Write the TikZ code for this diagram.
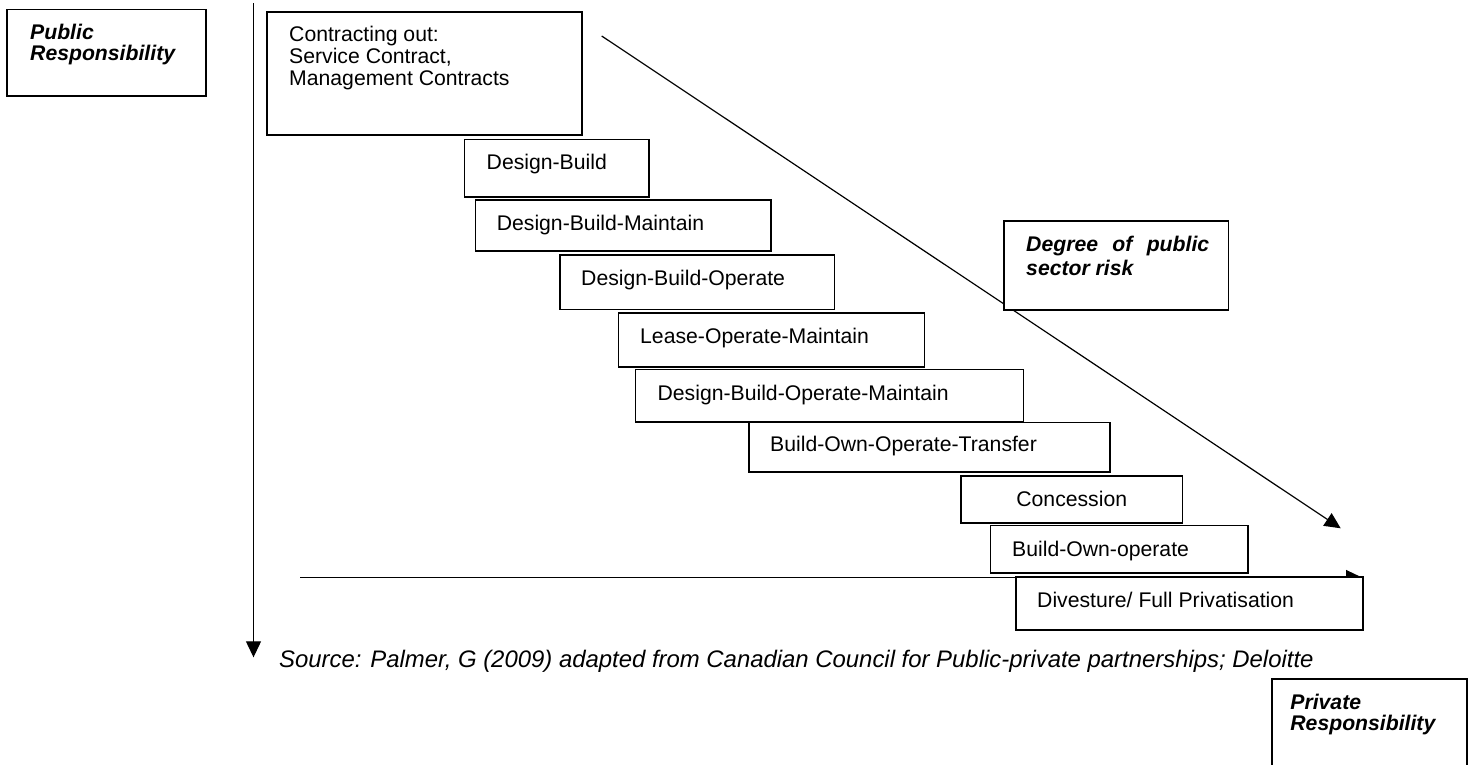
\documentclass[tikz,border=0pt]{standalone}
\usepackage{fontspec}
\setmainfont{Liberation Sans}
\usetikzlibrary{arrows.meta}
\newcommand\diagfont{\fontsize{21.2}{24.4}\selectfont}
\newcommand\tightfont{\fontsize{21.2}{21.5}\selectfont}
\begin{document}
\begin{tikzpicture}[x=1pt,y=-1pt,
  box/.style={draw, line width=1.6pt, fill=white, anchor=north west, inner sep=0pt, outer sep=0pt},
  lbl/.style={anchor=base west, inner sep=0pt, font=\diagfont},
  clbl/.style={anchor=base, inner sep=0pt, font=\diagfont},
  arr/.style={line width=1.2pt, -{Triangle[length=16pt,width=15pt]}}]
\useasboundingbox[fill=white] (0,0) rectangle (1469,764);
% axes / arrows
\coordinate (vtop) at (253.5,3);
\coordinate (vend) at (253.5,657.3);
\coordinate (hstart) at (300,577.5);
\coordinate (hend) at (1362,577.5);
\coordinate (dstart) at (601.7,36);
\coordinate (dend) at (1340.7,528.3);
\draw[arr] (vtop) -- (vend);
\draw[arr] (hstart) -- (hend);
\draw[arr] (dstart) -- (dend);
% boxes
\node[box, minimum width=199pt, minimum height=86.5pt] (pr) at (7,9.5) {};
\node[lbl, font=\tightfont\bfseries\itshape] (prt) at ([shift={(23,29.5)}]pr.north west)
  {\begin{tabular}[t]{@{}l@{}}Public\\Responsibility\end{tabular}};
\node[box, minimum width=315pt, minimum height=123.3pt] (co) at (267,11.7) {};
\node[lbl, font=\tightfont] (cot) at ([shift={(22,30)}]co.north west)
  {\begin{tabular}[t]{@{}l@{}}Contracting out:\\Service Contract,\\Management Contracts\end{tabular}};
\node[box, minimum width=184.5pt, minimum height=57.4pt] (db) at (464.5,139.3) {};
\node[lbl] (dbt) at ([shift={(22,30)}]db.north west) {Design-Build};
\node[box, minimum width=295.1pt, minimum height=51pt] (dbm) at (475.6,200) {};
\node[lbl] (dbmt) at ([shift={(21,30)}]dbm.north west) {Design-Build-Maintain};
\node[box, minimum width=274.6pt, minimum height=54.3pt] (dbo) at (560,255) {};
\node[lbl] (dbot) at ([shift={(21,30)}]dbo.north west) {Design-Build-Operate};
\node[box, minimum width=306.1pt, minimum height=54pt] (lom) at (618.4,312.7) {};
\node[lbl] (lomt) at ([shift={(21.6,30.6)}]lom.north west) {Lease-Operate-Maintain};
\node[box, minimum width=388pt, minimum height=52.4pt] (dbom) at (635.6,369.3) {};
\node[lbl] (dbomt) at ([shift={(21.8,31)}]dbom.north west) {Design-Build-Operate-Maintain};
\node[box, minimum width=361pt, minimum height=49.4pt] (boot) at (749,422.3) {};
\node[lbl] (boott) at ([shift={(21,29.4)}]boot.north west) {Build-Own-Operate-Transfer};
\node[box, minimum width=221.5pt, minimum height=47pt] (con) at (961,475.7) {};
\node[clbl] (cont) at ([shift={(0,30.3)}]con.north) {Concession};
\node[box, minimum width=257.2pt, minimum height=47.7pt] (boo) at (990.5,525.3) {};
\node[lbl] (boot2) at ([shift={(21.5,30.7)}]boo.north west) {Build-Own-operate};
\node[box, minimum width=346.7pt, minimum height=53.3pt] (div) at (1016,576.7) {};
\node[lbl] (divt) at ([shift={(21,30.3)}]div.north west) {Divesture/ Full Privatisation};
\node[box, minimum width=224.3pt, minimum height=89.3pt] (deg) at (1004,220.7) {};
\node[lbl, font=\fontsize{21.2}{23.3}\selectfont\bfseries\itshape] (degt) at ([shift={(22,31)}]deg.north west)
  {\parbox[t]{183pt}{\tolerance=10000\hyphenpenalty=10000 Degree of public sector risk}};
\node[box, minimum width=195.5pt, minimum height=120pt] (pv) at (1271.7,679) {};
\node[lbl, font=\tightfont\bfseries\itshape] (pvt) at ([shift={(18.5,30)}]pv.north west)
  {\begin{tabular}[t]{@{}l@{}}Private\\Responsibility\end{tabular}};
% source
\node[lbl, font=\fontsize{23.9}{27}\selectfont\itshape] (src) at (279,667)
  {Source: Palmer, G (2009) adapted from Canadian Council for Public-private partnerships; Deloitte};
\end{tikzpicture}
\end{document}
